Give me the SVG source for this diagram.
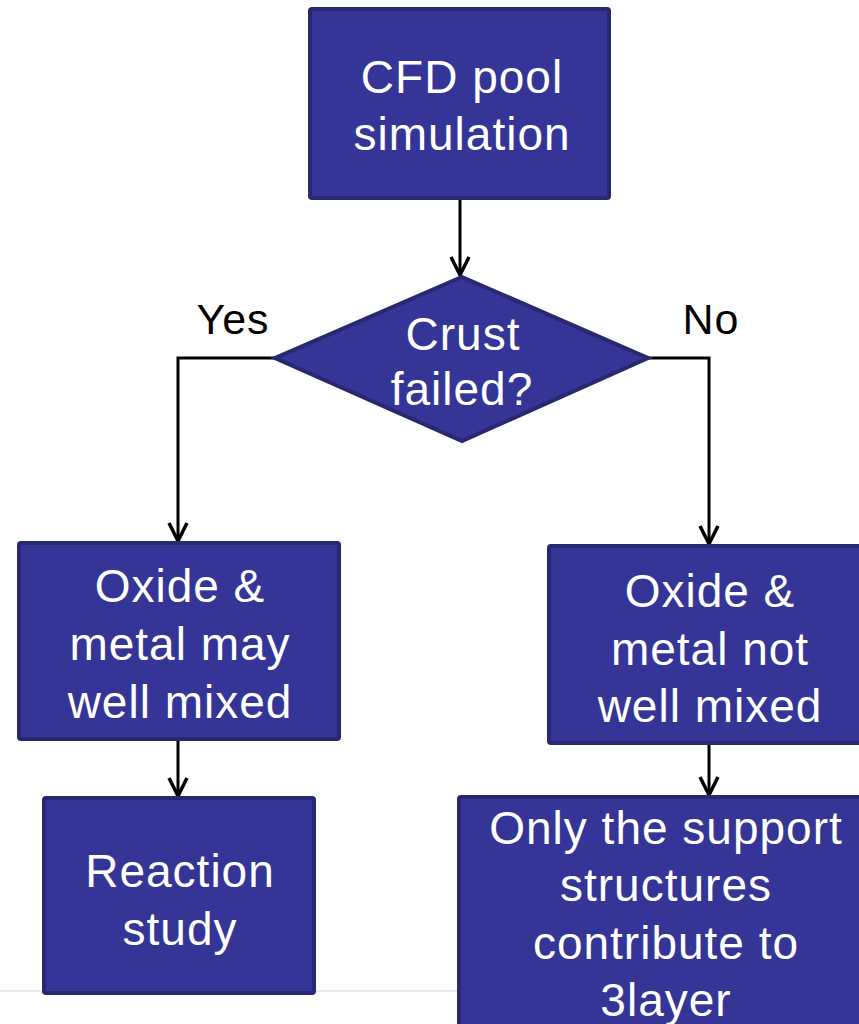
<svg xmlns="http://www.w3.org/2000/svg" width="859" height="1024" viewBox="0 0 859 1024">
<defs>
<style>
.box{fill:#343597;stroke:#272870;stroke-width:4;}
.t{fill:#ffffff;font-family:"Liberation Sans",Arial,sans-serif;font-size:46px;letter-spacing:1px;text-anchor:middle;}
.lbl{fill:#000000;font-family:"Liberation Sans",Arial,sans-serif;font-size:43px;letter-spacing:1px;text-anchor:middle;}
.c{fill:none;stroke:#000000;stroke-width:3;}
</style>
<marker id="arr" viewBox="0 0 22 22" refX="20" refY="11" markerWidth="22" markerHeight="22" markerUnits="userSpaceOnUse" orient="auto">
<path d="M2,2 L20,11 L2,20" fill="none" stroke="#000" stroke-width="3.5"/>
</marker>
</defs>
<rect width="859" height="1024" fill="#ffffff"/>
<line x1="0" y1="991" x2="460" y2="991" stroke="#e3e3e3" stroke-width="1.5"/>
<g id="connectors">
<line class="c" x1="460" y1="198" x2="460" y2="275" marker-end="url(#arr)"/>
<polyline class="c" points="275,358 178,358 178,541" marker-end="url(#arr)"/>
<polyline class="c" points="648,358 709,358 709,544" marker-end="url(#arr)"/>
<line class="c" x1="178" y1="739" x2="178" y2="796" marker-end="url(#arr)"/>
<line class="c" x1="709" y1="743" x2="709" y2="795" marker-end="url(#arr)"/>
</g>
<g id="cfd">
<rect class="box" x="310" y="9" width="299" height="189" rx="2"/>
<text class="t" x="462" y="93">CFD pool</text>
<text class="t" x="462" y="150">simulation</text>
</g>
<g id="crust">
<polygon class="box" points="462,277 648,358 462,441 275,358"/>
<text class="t" x="463" y="350">Crust</text>
<text class="t" x="462" y="405">failed?</text>
</g>
<g id="labels">
<text class="lbl" x="233" y="334">Yes</text>
<text class="lbl" x="711" y="334">No</text>
</g>
<g id="mixed">
<rect class="box" x="19" y="543" width="320" height="196" rx="2"/>
<text class="t" x="180" y="602">Oxide &amp;</text>
<text class="t" x="180" y="660">metal may</text>
<text class="t" x="180" y="718">well mixed</text>
</g>
<g id="reaction">
<rect class="box" x="44" y="798" width="270" height="195" rx="2"/>
<text class="t" x="180" y="887">Reaction</text>
<text class="t" x="180" y="945">study</text>
</g>
<g id="notmixed">
<rect class="box" x="549" y="546" width="325" height="197" rx="2"/>
<text class="t" x="710" y="607">Oxide &amp;</text>
<text class="t" x="710" y="665">metal not</text>
<text class="t" x="710" y="722">well mixed</text>
</g>
<g id="support">
<rect class="box" x="459" y="797" width="415" height="240" rx="2"/>
<text class="t" x="666" y="844">Only the support</text>
<text class="t" x="666" y="901">structures</text>
<text class="t" x="666" y="959">contribute to</text>
<text class="t" x="666" y="1016">3layer</text>
</g>
</svg>
